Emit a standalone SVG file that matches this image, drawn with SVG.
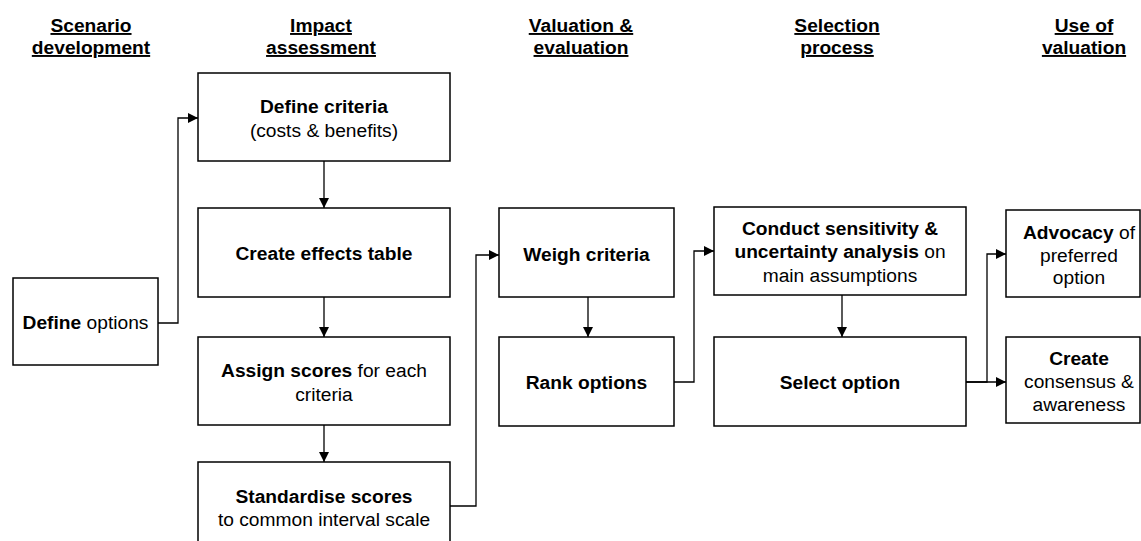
<svg xmlns="http://www.w3.org/2000/svg" width="1141" height="541" viewBox="0 0 1141 541">
  <style>
    text { font-family: "Liberation Sans", Arial, sans-serif; font-size: 19.2px; fill: #000; text-anchor: middle; }
    .b { font-weight: bold; }
    .hd { font-weight: bold; text-decoration: underline; }
    .box { fill: #fff; stroke: #000; stroke-width: 1.5; }
    .conn { fill: none; stroke: #000; stroke-width: 1.3; }
  </style>
  <defs>
    <marker id="arrow" markerUnits="userSpaceOnUse" markerWidth="11" markerHeight="11" refX="10" refY="5" orient="auto">
      <path d="M0,0 L10,5 L0,10 Z" fill="#000"/>
    </marker>
  </defs>

  <rect width="1141" height="541" fill="#fff"/>

  <!-- Column headings -->
  <g id="headings">
    <text class="hd" x="91" y="32">Scenario</text>
    <text class="hd" x="91" y="54">development</text>
    <text class="hd" x="321" y="32">Impact</text>
    <text class="hd" x="321" y="54">assessment</text>
    <text class="hd" x="581" y="32">Valuation &amp;</text>
    <text class="hd" x="581" y="54">evaluation</text>
    <text class="hd" x="837" y="32">Selection</text>
    <text class="hd" x="837" y="54">process</text>
    <text class="hd" x="1084" y="32">Use of</text>
    <text class="hd" x="1084" y="54">valuation</text>
  </g>

  <!-- Connectors -->
  <g id="connectors">
    <polyline class="conn" points="158,323 178,323 178,118 198,118" marker-end="url(#arrow)"/>
    <line class="conn" x1="324" y1="161" x2="324" y2="208" marker-end="url(#arrow)"/>
    <line class="conn" x1="324" y1="297" x2="324" y2="337" marker-end="url(#arrow)"/>
    <line class="conn" x1="324" y1="425" x2="324" y2="462" marker-end="url(#arrow)"/>
    <polyline class="conn" points="450,506 476,506 476,255 499,255" marker-end="url(#arrow)"/>
    <line class="conn" x1="588" y1="297" x2="588" y2="337" marker-end="url(#arrow)"/>
    <polyline class="conn" points="674,382 694,382 694,251 714,251" marker-end="url(#arrow)"/>
    <line class="conn" x1="842" y1="295" x2="842" y2="337" marker-end="url(#arrow)"/>
    <polyline class="conn" points="966,382 987,382 987,254 1006,254" marker-end="url(#arrow)"/>
    <line class="conn" x1="966" y1="382" x2="1006" y2="382" marker-end="url(#arrow)"/>
  </g>

  <!-- Nodes -->
  <g id="define-options">
    <rect class="box" x="13" y="278" width="145" height="87"/>
    <text x="85.5" y="329"><tspan class="b">Define</tspan> options</text>
  </g>

  <g id="define-criteria">
    <rect class="box" x="198" y="73" width="252" height="88"/>
    <text class="b" x="324" y="113">Define criteria</text>
    <text x="324" y="137">(costs &amp; benefits)</text>
  </g>

  <g id="create-effects-table">
    <rect class="box" x="198" y="208" width="252" height="89"/>
    <text class="b" x="324" y="260">Create effects table</text>
  </g>

  <g id="assign-scores">
    <rect class="box" x="198" y="337" width="252" height="88"/>
    <text x="324" y="377"><tspan class="b">Assign scores</tspan> for each</text>
    <text x="324" y="401">criteria</text>
  </g>

  <g id="standardise-scores">
    <rect class="box" x="198" y="462" width="252" height="92"/>
    <text class="b" x="324" y="503">Standardise scores</text>
    <text x="324" y="526">to common interval scale</text>
  </g>

  <g id="weigh-criteria">
    <rect class="box" x="499" y="208" width="175" height="89"/>
    <text class="b" x="586.5" y="261">Weigh criteria</text>
  </g>

  <g id="rank-options">
    <rect class="box" x="499" y="337" width="175" height="89"/>
    <text class="b" x="586.5" y="389">Rank options</text>
  </g>

  <g id="sensitivity-analysis">
    <rect class="box" x="714" y="207" width="252" height="88"/>
    <text class="b" x="840" y="235">Conduct sensitivity &amp;</text>
    <text x="840" y="258"><tspan class="b">uncertainty analysis</tspan> on</text>
    <text x="840" y="282">main assumptions</text>
  </g>

  <g id="select-option">
    <rect class="box" x="714" y="337" width="252" height="89"/>
    <text class="b" x="840" y="389">Select option</text>
  </g>

  <g id="advocacy">
    <rect class="box" x="1006" y="210" width="134" height="87"/>
    <text x="1079" y="239"><tspan class="b">Advocacy</tspan> of</text>
    <text x="1079" y="262">preferred</text>
    <text x="1079" y="284">option</text>
  </g>

  <g id="create-consensus">
    <rect class="box" x="1006" y="337" width="134" height="86"/>
    <text class="b" x="1079" y="365">Create</text>
    <text x="1079" y="388">consensus &amp;</text>
    <text x="1079" y="411">awareness</text>
  </g>
</svg>
